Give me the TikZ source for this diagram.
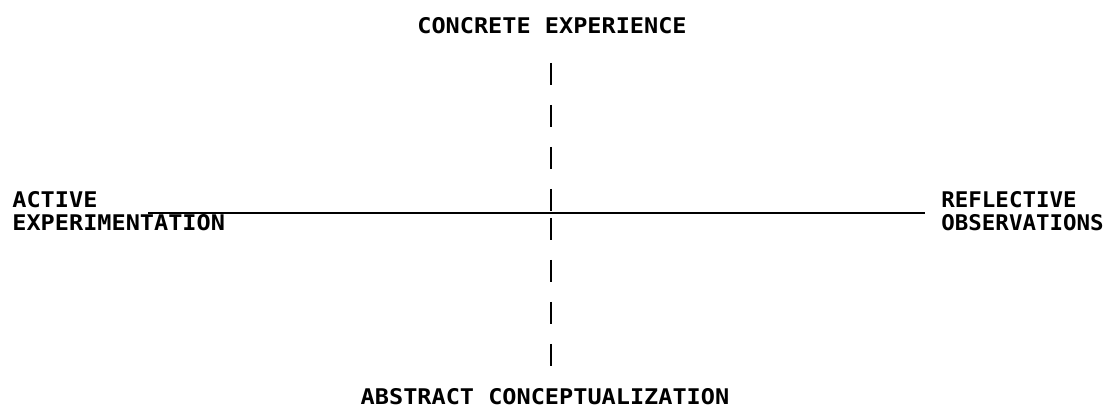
\documentclass[tikz,border=0pt]{standalone}
\usepackage{fontspec}
\setmonofont[FakeStretch=1.09]{DejaVu Sans Mono}
\newfontfamily\narrowmono[FakeStretch=1.04]{DejaVu Sans Mono}
\begin{document}
\begin{tikzpicture}[x=0.5pt, y=-0.5pt, line cap=butt,
    lbl/.style={font=\ttfamily\bfseries\fontsize{10.8}{11.5}\selectfont, inner sep=0pt, align=left},
    axis/.style={line width=1.2pt},
    gap/.style={line width=1.4pt, dash pattern=on 11pt off 10pt}]
	\useasboundingbox (0,0) rectangle (1110,411);
	% labels
	\node[lbl] (ce) at (552,26) {CONCRETE EXPERIENCE};
	\node[lbl] (ac) at (545,397) {ABSTRACT CONCEPTUALIZATION};
	\node[lbl, anchor=west] (ae) at (12,211) {ACTIVE\\EXPERIMENTATION};
	\node[lbl, font=\narrowmono\bfseries\fontsize{10.8}{11.5}\selectfont, anchor=west] (ro) at (941,211) {REFLECTIVE\\OBSERVATIONS};
	% axes
	\coordinate (lft) at (148,213);
	\coordinate (rgt) at (925,213);
	\coordinate (top) at (551,63);
	\coordinate (mid) at (551,213);
	\coordinate (bot) at (551,370);
	\draw[axis] (lft)--(rgt);
	\draw[gap] (top)--([yshift=1pt]mid);
	\draw[gap] ([yshift=-2.5pt]mid)--(bot);
\end{tikzpicture}
\end{document}
